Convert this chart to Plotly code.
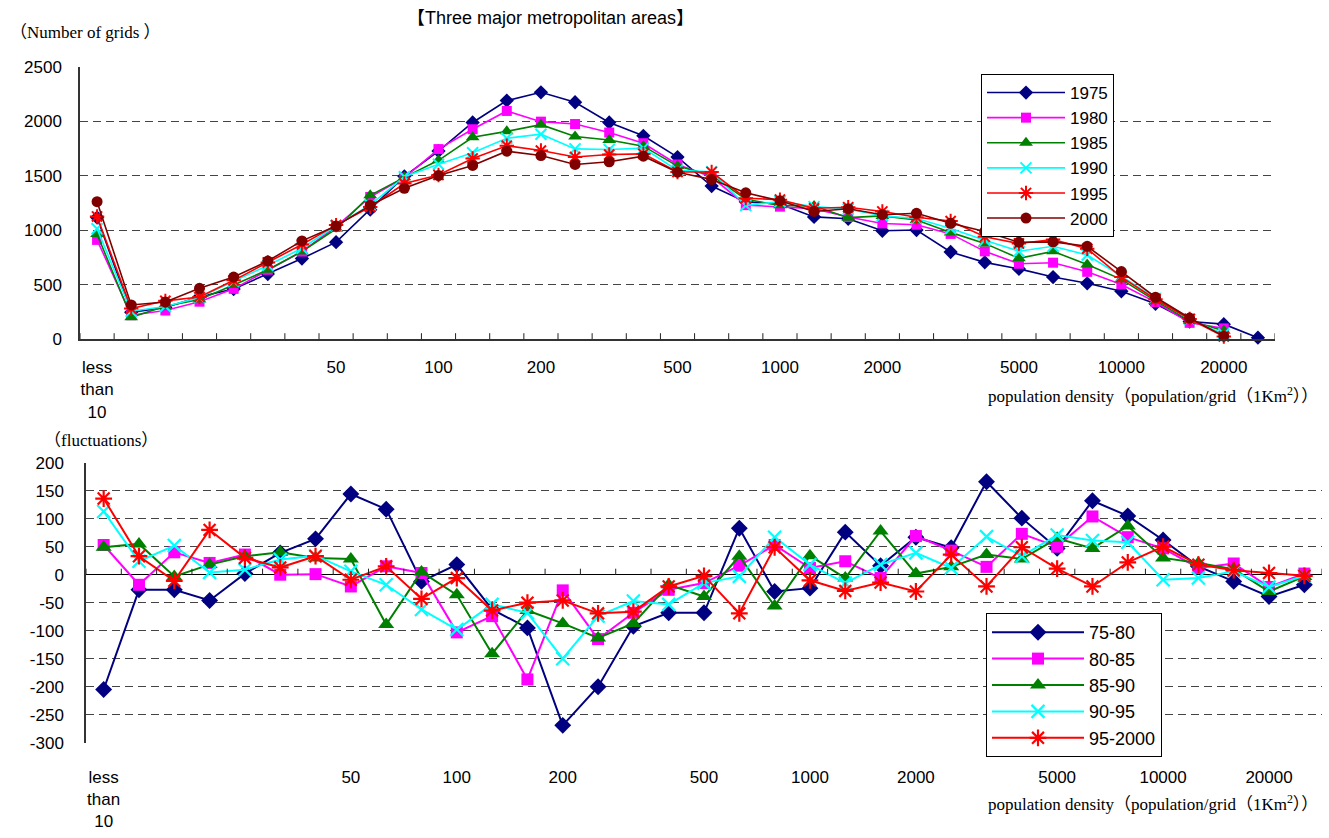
import plotly.graph_objects as go

W, H = 1329, 838

# Population-density classes along the x axis (10 classes per decade)
class_pos = list(range(35))
tick_pos = [0, 7, 10, 13, 17, 20, 23, 27, 30, 33]
tick_text = ["less<br>than<br>10", "50", "100", "200", "500", "1000",
             "2000", "5000", "10000", "20000"]

# Number of 1 km grids in each density class
years = ["1975", "1980", "1985", "1990", "1995", "2000"]
grids_1975 = [1116, 247, 290, 390, 460, 598, 740, 890, 1188, 1494, 1726, 1988, 2189, 2265, 2174,
              1988, 1866, 1671, 1405, 1260, 1240, 1122, 1105, 995, 1002, 800, 705, 645, 570, 513,
              440, 325, 162, 138, 14]
grids_1980 = [911, 220, 263, 344, 462, 637, 804, 1034, 1305, 1482, 1744, 1926, 2094, 1996, 1974,
              1896, 1798, 1603, 1488, 1230, 1216, 1198, 1121, 1062, 1050, 966, 806, 692, 702, 618,
              502, 340, 150, 99, None]
grids_1985 = [964, 202, 303, 365, 498, 637, 805, 1013, 1320, 1485, 1641, 1852, 1907, 1968, 1859,
              1828, 1771, 1588, 1504, 1283, 1228, 1222, 1115, 1131, 1093, 980, 879, 742, 806, 685,
              549, 352, 170, 77, None]
grids_1990 = [1013, 257, 300, 383, 531, 677, 835, 1041, 1231, 1490, 1605, 1711, 1843, 1881, 1746,
              1741, 1753, 1549, 1537, 1227, 1262, 1216, 1193, 1133, 1107, 1016, 907, 807, 853, 772,
              579, 373, 180, 47, None]
grids_1995 = [1126, 281, 352, 387, 540, 704, 869, 1047, 1213, 1428, 1507, 1658, 1775, 1731, 1672,
              1694, 1700, 1534, 1534, 1294, 1280, 1201, 1211, 1172, 1119, 1084, 940, 878, 914, 830,
              570, 367, 186, 25, None]
grids_2000 = [1262, 314, 341, 467, 570, 717, 902, 1038, 1228, 1385, 1501, 1594, 1725, 1685, 1603,
              1628, 1679, 1532, 1465, 1343, 1270, 1172, 1197, 1142, 1155, 1063, 989, 889, 893, 852,
              620, 385, 194, 28, None]

# Change in the number of grids between census years
periods = ["75-80", "80-85", "85-90", "90-95", "95-2000"]
change_75_80 = [-205, -27, -27, -46, 2, 39, 64, 144, 117, -12, 18, -62, -95, -269, -200,
                -92, -68, -68, 83, -30, -24, 76, 16, 67, 48, 166, 101, 47, 132, 105,
                62, 15, -12, -39, -18]
change_80_85 = [53, -18, 40, 21, 36, 0, 1, -21, 15, 3, -103, -74, -187, -28, -115,
                -68, -27, -15, 16, 53, 12, 24, -6, 69, 43, 14, 73, 50, 104, 67,
                47, 12, 20, -22, 2]
change_85_90 = [49, 55, -3, 18, 33, 40, 30, 28, -89, 5, -36, -141, -64, -87, -113,
                -87, -18, -39, 33, -56, 34, -6, 78, 2, 14, 36, 28, 65, 47, 87,
                30, 21, 10, -30, -3]
change_90_95 = [113, 24, 52, 4, 9, 27, 34, 6, -18, -62, -98, -53, -68, -150, -74,
                -47, -53, -15, -3, 67, 18, -15, 18, 39, 12, 68, 33, 71, 61, 58,
                -9, -6, 6, -22, -2]
change_95_00 = [136, 33, -11, 80, 30, 13, 33, -9, 15, -43, -6, -64, -50, -46, -69,
                -66, -21, -2, -69, 49, -10, -29, -14, -30, 36, -21, 49, 11, -21, 22,
                50, 18, 8, 3, -2]

grid_ticks = [0, 500, 1000, 1500, 2000, 2500]
change_ticks = [-300, -250, -200, -150, -100, -50, 0, 50, 100, 150, 200]

colors = ["#000080", "#FF00FF", "#008000", "#00FFFF", "#FF0000", "#800000"]
symbols = ["diamond", "square", "triangle-up", "x-thin", "asterisk", "circle"]
top_sizes = [11, 10, 12, 11, 12, 11]
bottom_sizes = [13, 12, 14, 13, 14]

SANS = "Liberation Sans, Arial, Noto Sans CJK JP, sans-serif"
SERIF = "Liberation Serif, Times New Roman, Noto Sans CJK JP, serif"

fig = go.Figure()

for name, vals, col, sym, sz in zip(years,
                                     [grids_1975, grids_1980, grids_1985, grids_1990, grids_1995, grids_2000],
                                     colors, symbols, top_sizes):
    open_sym = sym in ("x-thin", "asterisk")
    fig.add_trace(go.Scatter(
        x=class_pos, y=vals, name=name, mode="lines+markers",
        xaxis="x", yaxis="y", legend="legend", cliponaxis=False,
        line=dict(color=col, width=1.6),
        marker=dict(symbol=sym, size=sz, color=col,
                    line=dict(color=col, width=2 if open_sym else 0)),
    ))

for name, vals, col, sym, sz in zip(periods,
                                     [change_75_80, change_80_85, change_85_90, change_90_95, change_95_00],
                                     colors[:5], symbols[:5], bottom_sizes):
    open_sym = sym in ("x-thin", "asterisk")
    fig.add_trace(go.Scatter(
        x=class_pos, y=vals, name=name, mode="lines+markers",
        xaxis="x2", yaxis="y2", legend="legend2", cliponaxis=False,
        line=dict(color=col, width=2),
        marker=dict(symbol=sym, size=sz, color=col,
                    line=dict(color=col, width=2.2 if open_sym else 0)),
    ))

# Small tick marks between density classes (on the base line / zero line)
shapes = []
for i in range(len(class_pos) + 1):
    for xr, yr in (("x", "y"), ("x2", "y2")):
        shapes.append(dict(type="line", xref=xr, yref=yr, x0=i - 0.5, x1=i - 0.5,
                           ysizemode="pixel", yanchor=0, y0=0, y1=6,
                           line=dict(color="#222", width=1)))

grid_style = dict(showgrid=True, gridcolor="#444", gridwidth=1, griddash="8px,5px")
tick_font = dict(family=SANS, size=17, color="black")

fig.update_layout(
    width=W, height=H, autosize=False,
    margin=dict(l=0, r=0, t=0, b=0),
    paper_bgcolor="white", plot_bgcolor="white",
    showlegend=True,
    xaxis=dict(domain=[80 / W, 1275 / W], range=[-0.5, 34.5], anchor="y",
               tickmode="array", tickvals=tick_pos, ticktext=tick_text, ticks="",
               showgrid=False, zeroline=False, showline=True, linecolor="#333", linewidth=1.5,
               tickfont=tick_font, ticklabelstandoff=12, automargin=False),
    yaxis=dict(domain=[1 - 339.2 / H, 1 - 66.7 / H], range=[0, 2500], anchor="x",
               tickmode="array", tickvals=grid_ticks, ticktext=[str(v) for v in grid_ticks],
               ticks="", zeroline=False, showline=True, linecolor="#333", linewidth=1.5,
               tickfont=tick_font, ticklabelstandoff=13, automargin=False, **grid_style),
    xaxis2=dict(domain=[86 / W, 1322 / W], range=[-0.5, 34.5], anchor="y2",
                tickmode="array", tickvals=tick_pos, ticktext=tick_text, ticks="",
                showgrid=False, zeroline=False, showline=False,
                tickfont=tick_font, ticklabelstandoff=22, automargin=False),
    yaxis2=dict(domain=[1 - 742.7 / H, 1 - 462.7 / H], range=[-300, 200], anchor="x2",
                tickmode="array", tickvals=change_ticks, ticktext=[str(v) for v in change_ticks],
                ticks="", zeroline=True, zerolinecolor="black", zerolinewidth=1,
                showline=True, linecolor="#333", linewidth=1.5,
                tickfont=tick_font, ticklabelstandoff=17, automargin=False, **grid_style),
    legend=dict(x=981 / W, y=1 - 74 / H, xanchor="left", yanchor="top",
                bgcolor="white", bordercolor="black", borderwidth=1,
                font=dict(family=SANS, size=17, color="black"), itemwidth=78,
                tracegroupgap=0),
    legend2=dict(x=986 / W, y=1 - 613 / H, xanchor="left", yanchor="top",
                 bgcolor="white", bordercolor="black", borderwidth=1,
                 font=dict(family=SANS, size=18, color="black"), itemwidth=92,
                 tracegroupgap=0),
    shapes=shapes,
    annotations=[
        dict(text="【Three major metropolitan areas】", x=550 / W, y=1 - 18 / H,
             xref="paper", yref="paper", xanchor="center", yanchor="middle", showarrow=False,
             font=dict(family=SANS, size=18, color="black")),
        dict(text="（Number of grids ）", x=8 / W, y=1 - 32 / H,
             xref="paper", yref="paper", xanchor="left", yanchor="middle", showarrow=False,
             font=dict(family=SERIF, size=17, color="black")),
        dict(text="（fluctuations）", x=42 / W, y=1 - 440 / H,
             xref="paper", yref="paper", xanchor="left", yanchor="middle", showarrow=False,
             font=dict(family=SERIF, size=17, color="black")),
        dict(text="population density（population/grid（1Km<sup>2</sup>））", x=1320 / W, y=1 - 395 / H,
             xref="paper", yref="paper", xanchor="right", yanchor="middle", showarrow=False,
             font=dict(family=SERIF, size=17, color="black")),
        dict(text="population density（population/grid（1Km<sup>2</sup>））", x=1320 / W, y=1 - 803 / H,
             xref="paper", yref="paper", xanchor="right", yanchor="middle", showarrow=False,
             font=dict(family=SERIF, size=17, color="black")),
    ],
)

fig.write_html("out.html")
